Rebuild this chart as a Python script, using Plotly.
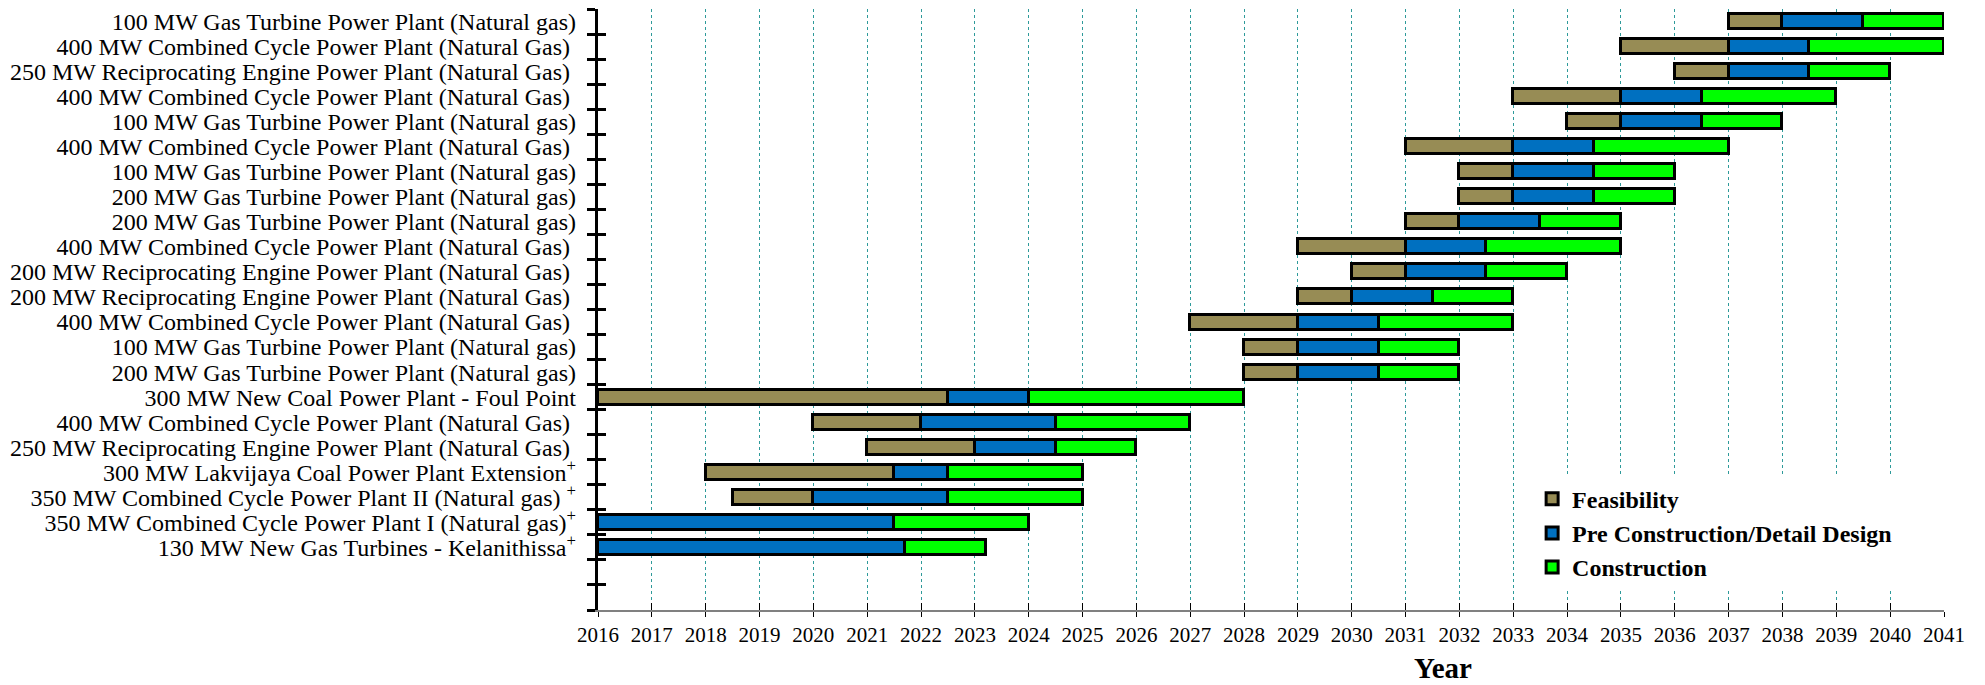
import plotly.graph_objects as go

# ---------------- data (top row first) ----------------
projects = [
    "100 MW Gas Turbine Power Plant (Natural gas)",
    "400 MW Combined Cycle Power Plant (Natural Gas)\u00a0",
    "250 MW Reciprocating Engine Power Plant (Natural Gas)\u00a0",
    "400 MW Combined Cycle Power Plant (Natural Gas)\u00a0",
    "100 MW Gas Turbine Power Plant (Natural gas)",
    "400 MW Combined Cycle Power Plant (Natural Gas)\u00a0",
    "100 MW Gas Turbine Power Plant (Natural gas)",
    "200 MW Gas Turbine Power Plant (Natural gas)",
    "200 MW Gas Turbine Power Plant (Natural gas)",
    "400 MW Combined Cycle Power Plant (Natural Gas)\u00a0",
    "200 MW Reciprocating Engine Power Plant (Natural Gas)\u00a0",
    "200 MW Reciprocating Engine Power Plant (Natural Gas)\u00a0",
    "400 MW Combined Cycle Power Plant (Natural Gas)\u00a0",
    "100 MW Gas Turbine Power Plant (Natural gas)",
    "200 MW Gas Turbine Power Plant (Natural gas)",
    "300 MW New Coal Power Plant - Foul Point",
    "400 MW Combined Cycle Power Plant (Natural Gas)\u00a0",
    "250 MW Reciprocating Engine Power Plant (Natural Gas)\u00a0",
    "300 MW Lakvijaya Coal Power Plant Extension<sup>+</sup>",
    "350 MW Combined Cycle Power Plant II (Natural gas) <sup>+</sup>",
    "350 MW Combined Cycle Power Plant I (Natural gas)<sup>+</sup>",
    "130 MW New Gas Turbines - Kelanithissa<sup>+</sup>",
]
feas_start = [2037, 2035, 2036, 2033, 2034, 2031, 2032, 2032, 2031, 2029, 2030, 2029, 2027, 2028, 2028,
              2016, 2020, 2021, 2018, 2018.5, None, None]
pre_start = [2038, 2037, 2037, 2035, 2035, 2033, 2033, 2033, 2032, 2031, 2031, 2030, 2029, 2029, 2029,
             2022.5, 2022, 2023, 2021.5, 2020, 2016, 2016]
con_start = [2039.5, 2038.5, 2038.5, 2036.5, 2036.5, 2034.5, 2034.5, 2034.5, 2033.5, 2032.5, 2032.5, 2031.5,
             2030.5, 2030.5, 2030.5, 2024, 2024.5, 2024.5, 2022.5, 2022.5, 2021.5, 2021.7]
end_year = [2041, 2041, 2040, 2039, 2038, 2037, 2036, 2036, 2035, 2035, 2034, 2033, 2033, 2032, 2032,
            2028, 2027, 2026, 2025, 2025, 2024, 2023.2]
phase_names = ["Feasibility", "Pre Construction/Detail Design", "Construction"]
phase_colors = ["#978C55", "#0070C0", "#00FF00"]
years = list(range(2016, 2042))
n_slots = 24  # 22 projects + 2 empty slots at the bottom

# ---------------- derived positions ----------------
ypos = [n_slots - i - 0.5 for i in range(len(projects))]
boundaries = list(range(0, n_slots + 1))

def dur(a, b):
    return [None if s is None else e - s for s, e in zip(a, b)]

segments = [
    (feas_start, dur(feas_start, pre_start)),
    (pre_start, dur(pre_start, con_start)),
    (con_start, dur(con_start, end_year)),
]

FONT = "Liberation Serif"
fig = go.Figure()
for (base, length), name, color in zip(segments, phase_names, phase_colors):
    fig.add_trace(go.Bar(
        y=ypos, x=length, base=base, orientation="h", width=0.6,
        name="<b>" + name + "</b>",
        marker=dict(color=color, line=dict(color="black", width=3)),
    ))

# invisible helper traces so the overlay axes are drawn
fig.add_trace(go.Scatter(x=[], y=[], xaxis="x2", yaxis="y2", showlegend=False))
fig.add_trace(go.Scatter(x=[], y=[], xaxis="x", yaxis="y3", showlegend=False))

fig.update_layout(
    width=1977, height=677,
    margin=dict(l=589.5, r=40.5, t=1, b=75),
    plot_bgcolor="white", paper_bgcolor="white",
    barmode="overlay", bargap=0,
    font=dict(family=FONT, color="black"),
    showlegend=True,
    legend=dict(
        x=0.694, y=0.222, xanchor="left", yanchor="top",
        bgcolor="white", traceorder="normal",
        font=dict(family=FONT, size=24, color="black"),
        itemwidth=30,
    ),
    xaxis=dict(
        range=[2016, 2041], tickvals=years, ticktext=[str(v) for v in years],
        showgrid=True, gridcolor="#2E9A9A", griddash="dot", gridwidth=1,
        showline=True, linecolor="#808080", linewidth=2,
        ticks="outside", ticklen=5, tickwidth=1, tickcolor="black",
        tickfont=dict(family=FONT, size=21), zeroline=False,
    ),
    xaxis2=dict(
        range=[2016, 2041], tickvals=years, overlaying="x", anchor="y",
        showgrid=False, showline=False, ticks="inside", ticklen=7, tickwidth=1,
        tickcolor="black", showticklabels=False, zeroline=False,
    ),
    yaxis=dict(
        range=[0, n_slots], tickvals=boundaries, showticklabels=False,
        showgrid=False, showline=True, linecolor="black", linewidth=3,
        ticks="outside", ticklen=8, tickwidth=2.5, tickcolor="black", zeroline=False,
    ),
    yaxis2=dict(
        range=[0, n_slots], tickvals=boundaries, overlaying="y", anchor="x",
        showticklabels=False, showgrid=False, showline=False,
        ticks="inside", ticklen=8, tickwidth=2.5, tickcolor="black", zeroline=False,
    ),
    yaxis3=dict(
        range=[0, n_slots], tickvals=ypos, ticktext=projects, overlaying="y", anchor="x",
        side="left", showgrid=False, showline=False, ticks="", zeroline=False,
        ticklabelstandoff=21, tickfont=dict(family=FONT, size=24),
    ),
    annotations=[dict(
        text="<b>Year</b>", x=0.628, y=-0.0965, xref="paper", yref="paper",
        xanchor="center", yanchor="middle", showarrow=False,
        font=dict(family=FONT, size=29, color="black"),
    )],
)

fig.write_html("out.html")
